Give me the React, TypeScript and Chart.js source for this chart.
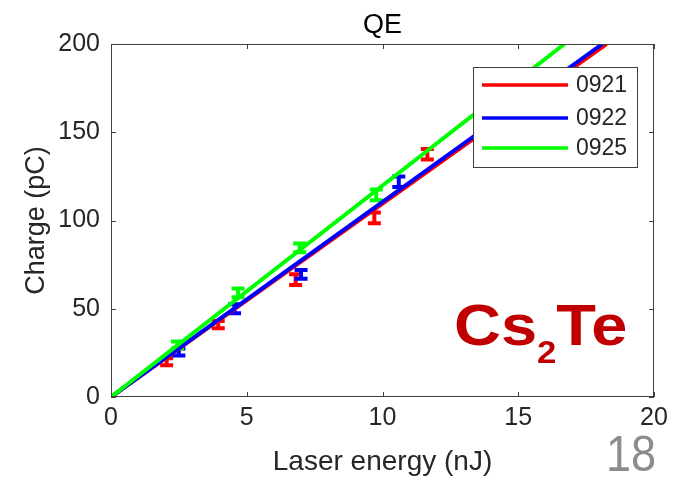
import React, { useEffect, useRef } from "react";
import { Chart, registerables } from "chart.js";

Chart.register(...registerables);

// ---- data ----
const seriesNames = ["0921", "0922", "0925"];
const seriesColors = ["#ff0000", "#0000ff", "#00ff00"];

const energy0921 = [2.05, 3.95, 6.8, 9.7, 11.65];
const charge0921 = [20, 41, 66.5, 101.5, 137.5];
const err0921 = [2, 2, 3, 3, 3];

const energy0922 = [2.5, 4.55, 7.0, 10.6];
const charge0922 = [25.5, 50, 69.5, 122];
const err0922 = [2, 2.5, 2.5, 3];

const energy0925 = [2.45, 4.68, 6.95, 9.77];
const charge0925 = [29.5, 59, 84.5, 114.5];
const err0925 = [2, 2.5, 2.5, 3];

// linear fits through the origin (end points where each meets the top of the axes)
const fitEnergy0921 = [0, 18.25];
const fitCharge0921 = [0, 200];
const fitEnergy0922 = [0, 18.1];
const fitCharge0922 = [0, 200];
const fitEnergy0925 = [0, 16.7];
const fitCharge0925 = [0, 200];

const xTicks = [0, 5, 10, 15, 20];
const yTicks = [0, 50, 100, 150, 200];

const titleText = "QE";
const xTitle = "Laser energy (nJ)";
const yTitle = "Charge (pC)";
const slideNumber = "18";

const FONT = "'Liberation Sans', Arial, sans-serif";

const measured = [
  { x: energy0921, y: charge0921, e: err0921 },
  { x: energy0922, y: charge0922, e: err0922 },
  { x: energy0925, y: charge0925, e: err0925 },
];
const fits = [
  { x: fitEnergy0921, y: fitCharge0921 },
  { x: fitEnergy0922, y: fitCharge0922 },
  { x: fitEnergy0925, y: fitCharge0925 },
];

const decorPlugin = {
  id: "decor",
  beforeDatasetsDraw(chart: any) {
    const { ctx, scales } = chart;
    const xs = scales.x;
    const ys = scales.y;
    ctx.save();
    measured.forEach((s, si) => {
      ctx.strokeStyle = seriesColors[si];
      ctx.lineWidth = 4;
      ctx.lineCap = "butt";
      s.x.forEach((xv, i) => {
        const px = xs.getPixelForValue(xv);
        const pTop = ys.getPixelForValue(s.y[i] + s.e[i]);
        const pBot = ys.getPixelForValue(s.y[i] - s.e[i]);
        const cap = 6.5;
        ctx.beginPath();
        ctx.moveTo(px, pTop);
        ctx.lineTo(px, pBot);
        ctx.moveTo(px - cap, pTop);
        ctx.lineTo(px + cap, pTop);
        ctx.moveTo(px - cap, pBot);
        ctx.lineTo(px + cap, pBot);
        ctx.stroke();
      });
    });
    ctx.restore();
  },
  afterDatasetsDraw(chart: any) {
    const { ctx, chartArea: ca, scales } = chart;
    const xs = scales.x;
    const ys = scales.y;
    ctx.save();
    // frame
    ctx.strokeStyle = "#404040";
    ctx.lineWidth = 1;
    ctx.strokeRect(ca.left + 0.5, ca.top + 0.5, ca.right - ca.left - 1, ca.bottom - ca.top - 1);
    // inward ticks
    const tl = 5;
    ctx.beginPath();
    xTicks.forEach((v) => {
      const px = Math.round(xs.getPixelForValue(v)) + 0.5;
      ctx.moveTo(px, ca.bottom);
      ctx.lineTo(px, ca.bottom - tl);
      ctx.moveTo(px, ca.top);
      ctx.lineTo(px, ca.top + tl);
    });
    yTicks.forEach((v) => {
      const py = Math.round(ys.getPixelForValue(v)) + 0.5;
      ctx.moveTo(ca.left, py);
      ctx.lineTo(ca.left + tl, py);
      ctx.moveTo(ca.right, py);
      ctx.lineTo(ca.right - tl, py);
    });
    ctx.stroke();

    // title centred over the axes
    ctx.fillStyle = "#000000";
    ctx.font = `27px ${FONT}`;
    ctx.textAlign = "center";
    ctx.textBaseline = "alphabetic";
    ctx.fillText(titleText, (ca.left + ca.right) / 2, ca.top - 11);

    // legend
    const bx = ca.right - 181;
    const by = ca.top + 23;
    const bw = 164;
    const bh = 100;
    ctx.fillStyle = "#ffffff";
    ctx.fillRect(bx, by, bw, bh);
    ctx.strokeStyle = "#404040";
    ctx.lineWidth = 1;
    ctx.strokeRect(bx + 0.5, by + 0.5, bw, bh);
    const rows = [18, 51, 81];
    ctx.font = `23px ${FONT}`;
    ctx.textBaseline = "middle";
    ctx.textAlign = "left";
    seriesNames.forEach((n, i) => {
      ctx.strokeStyle = seriesColors[i];
      ctx.lineWidth = 3.5;
      ctx.beginPath();
      ctx.moveTo(bx + 9, by + rows[i]);
      ctx.lineTo(bx + 95, by + rows[i]);
      ctx.stroke();
      ctx.fillStyle = "#262626";
      ctx.fillText(n, bx + 103, by + rows[i] + 1);
    });

    // Cs2Te annotation (slightly widened lettering)
    ctx.save();
    ctx.fillStyle = "#c00000";
    ctx.textBaseline = "alphabetic";
    ctx.textAlign = "left";
    const sx = 1.12;
    ctx.translate(454, 345);
    ctx.scale(sx, 1);
    let tx = 0;
    ctx.font = `bold 58px ${FONT}`;
    ctx.fillText("Cs", tx, 0);
    tx += ctx.measureText("Cs").width;
    ctx.font = `bold 31px ${FONT}`;
    ctx.fillText("2", tx, 18);
    tx += ctx.measureText("2").width;
    ctx.font = `bold 58px ${FONT}`;
    ctx.fillText("Te", tx, 0);
    ctx.restore();

    // slide number
    ctx.save();
    ctx.fillStyle = "#8c8c8c";
    ctx.font = `50px ${FONT}`;
    ctx.textAlign = "right";
    ctx.textBaseline = "alphabetic";
    ctx.translate(656, 471);
    ctx.scale(0.9, 1);
    ctx.fillText(slideNumber, 0, 0);
    ctx.restore();
    ctx.restore();
  },
};

export default function App() {
  const ref = useRef<HTMLCanvasElement | null>(null);
  useEffect(() => {
    if (!ref.current) return;
    const datasets: any[] = fits.map((f, i) => ({
      label: seriesNames[i],
      data: f.x.map((xv, j) => ({ x: xv, y: f.y[j] })),
      borderColor: seriesColors[i],
      backgroundColor: seriesColors[i],
      borderWidth: 4,
      pointRadius: 0,
      showLine: true,
      fill: false,
      order: 3 - i,
    }));
    const chart = new Chart(ref.current, {
      type: "scatter",
      data: { datasets },
      plugins: [decorPlugin],
      options: {
        animation: false,
        responsive: false,
        devicePixelRatio: 1,
        layout: { padding: { left: 0, right: 25, top: 44, bottom: 0 } },
        plugins: {
          legend: { display: false },
          tooltip: { enabled: false },
          title: { display: false },
        },
        scales: {
          x: {
            type: "linear",
            min: 0,
            max: 20,
            afterBuildTicks: (s: any) => {
              s.ticks = xTicks.map((v) => ({ value: v }));
            },
            ticks: {
              color: "#262626",
              font: { family: FONT, size: 25 },
              padding: 6,
              maxRotation: 0,
            },
            grid: { display: false, drawTicks: false },
            border: { display: false },
            title: {
              display: true,
              text: xTitle,
              color: "#262626",
              font: { family: FONT, size: 28 },
              padding: { top: 0, bottom: 5 },
            },
            afterFit: (s: any) => {
              s.height = 87;
            },
          },
          y: {
            type: "linear",
            min: 0,
            max: 200,
            afterBuildTicks: (s: any) => {
              s.ticks = yTicks.map((v) => ({ value: v }));
            },
            ticks: {
              color: "#262626",
              font: { family: FONT, size: 25 },
              padding: 11,
            },
            grid: { display: false, drawTicks: false },
            border: { display: false },
            title: {
              display: true,
              text: yTitle,
              color: "#262626",
              font: { family: FONT, size: 27 },
              padding: { top: 20, bottom: 0 },
            },
            afterFit: (s: any) => {
              s.width = 111;
            },
          },
        },
      },
    } as any);
    return () => chart.destroy();
  }, []);
  return (
    <canvas
      ref={ref}
      width={679}
      height={484}
      style={{ position: "absolute", left: 0, top: 0, width: 679, height: 484 }}
    />
  );
}
